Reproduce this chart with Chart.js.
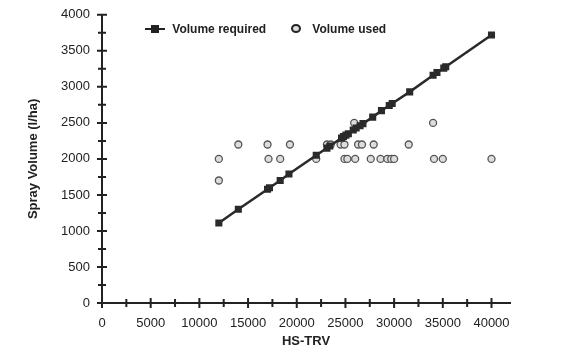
<!DOCTYPE html>
<html>
<head>
<meta charset="utf-8">
<script src="https://cdn.jsdelivr.net/npm/chart.js@4/dist/chart.umd.min.js"></script>
<style>
    html, body { margin: 0; padding: 0; background: #fff; }
    #wrap { position: relative; width: 573px; height: 359px; }
    .leg { position: absolute; top: 20px; font: bold 12px "Liberation Sans", Arial, sans-serif; color: #222; line-height: 16px; }
    .leg span { display: inline-block; vertical-align: middle; }
</style>
</head>
<body>
<div id="wrap">
    <canvas id="grafico" width="573" height="359"></canvas>
    <div class="leg" style="left:145px">
        <span style="position:relative;width:20px;height:16px">
            <span style="position:absolute;left:0;top:7px;width:20px;height:2px;background:#222"></span>
            <span style="position:absolute;left:6px;top:4px;width:8px;height:8px;background:#222"></span>
        </span>
        <span style="margin-left:4px">Volume required</span>
    </div>
    <div class="leg" style="left:291px">
        <span style="width:6px;height:5px;border:2px solid #222;border-radius:50%;background:#ddd"></span>
        <span style="margin-left:8px">Volume used</span>
    </div>
</div>
<script>
/* Spray volume vs HS-TRV */
const reqX  = [12000, 14000, 17000, 17200, 18300, 19200, 22000, 23100, 23400, 24600, 24800, 25050, 25300, 25800,
               26100, 26500, 26800, 27800, 28700, 29500, 29800, 31600, 34000, 34400, 35100, 35300, 40000];
const reqY  = [1110, 1300, 1580, 1600, 1700, 1790, 2050, 2150, 2180, 2290, 2310, 2330, 2350, 2400,
               2430, 2460, 2490, 2580, 2670, 2740, 2770, 2930, 3160, 3200, 3260, 3280, 3720];

const usedX = [12000, 12000, 14000, 17000, 17100, 18300, 19300, 22000, 23100, 23500, 24500, 24900, 24900, 25200,
               25900, 26000, 26300, 26700, 27600, 27900, 28600, 29300, 29700, 30000, 31500, 34000, 34100, 35000, 40000];
const usedY = [2000, 1700, 2200, 2200, 2000, 2000, 2200, 2000, 2200, 2200, 2200, 2200, 2000, 2000,
               2500, 2000, 2200, 2200, 2000, 2200, 2000, 2000, 2000, 2000, 2200, 2500, 2000, 2000, 2000];

const xTicks = [0, 5000, 10000, 15000, 20000, 25000, 30000, 35000, 40000];
const yTicks = [0, 500, 1000, 1500, 2000, 2500, 3000, 3500, 4000];

const pts = (xs, ys) => xs.map((x, i) => ({ x, y: ys[i] }));

const tickFont = { family: '"Liberation Sans", Arial, sans-serif', size: 13 };
const titleFont = { family: '"Liberation Sans", Arial, sans-serif', size: 13, weight: 'bold' };

// ticks crossing the axis, plus a minor tick halfway between labels
const crossTicks = {
    id: 'crossTicks',
    afterDraw(chart) {
        const { ctx, scales: { x, y } } = chart;
        ctx.save();
        ctx.strokeStyle = '#222';
        ctx.lineWidth = 2;
        ctx.beginPath();
        xTicks.forEach((v, i) => {
            const px = x.getPixelForValue(v);
            ctx.moveTo(px, x.top - 5);
            ctx.lineTo(px, x.top + 5);
            if (i > 0) {
                const pm = x.getPixelForValue((v + xTicks[i - 1]) / 2);
                ctx.moveTo(pm, x.top - 4);
                ctx.lineTo(pm, x.top + 4);
            }
        });
        yTicks.forEach((v, i) => {
            const py = y.getPixelForValue(v);
            ctx.moveTo(y.right - 5, py);
            ctx.lineTo(y.right + 5, py);
            if (i > 0) {
                const pm = y.getPixelForValue((v + yTicks[i - 1]) / 2);
                ctx.moveTo(y.right - 4, pm);
                ctx.lineTo(y.right + 4, pm);
            }
        });
        // axis line runs a little past the y axis, like the original
        ctx.moveTo(y.right - 5, x.top);
        ctx.lineTo(y.right, x.top);
        ctx.stroke();
        ctx.restore();
    }
};

new Chart(document.getElementById('grafico'), {
    type: 'scatter',
    data: {
        datasets: [
            {
                label: 'Volume required',
                data: pts(reqX, reqY),
                showLine: true,
                borderColor: '#2a2a2a',
                borderWidth: 2.5,
                backgroundColor: '#2a2a2a',
                pointStyle: 'rect',
                pointRadius: 5,
                pointBorderWidth: 0,
                order: 1,
            },
            {
                label: 'Volume used',
                data: pts(usedX, usedY),
                borderColor: '#555',
                backgroundColor: '#ddd',
                pointRadius: 3.5,
                pointBorderWidth: 1.3,
                order: 2,
            },
        ]
    },
    options: {
        responsive: false,
        animation: false,
        layout: { padding: { left: 22, top: 10, right: 63, bottom: 7 } },
        plugins: {
            legend: { display: false },
            tooltip: { enabled: false }
        },
        scales: {
            x: {
                type: 'linear',
                min: 0,
                max: 41900,
                afterBuildTicks: s => { s.ticks = xTicks.map(v => ({ value: v })); },
                afterFit: s => { s.height = 49; },
                border: { color: '#222', width: 2 },
                grid: { drawOnChartArea: false, drawTicks: true, tickLength: 5, color: 'rgba(0,0,0,0)' },
                ticks: {
                    autoSkip: false,
                    maxRotation: 0,
                    padding: 8,
                    color: '#222',
                    font: tickFont,
                    callback: v => String(v)
                },
                title: { display: true, text: 'HS-TRV', color: '#222', font: titleFont, padding: { top: 2, bottom: 3 } }
            },
            y: {
                min: 0,
                max: 4000,
                afterBuildTicks: s => { s.ticks = yTicks.map(v => ({ value: v })); },
                afterFit: s => { s.width = 80; },
                border: { color: '#222', width: 2 },
                grid: { drawOnChartArea: false, drawTicks: true, tickLength: 5, color: 'rgba(0,0,0,0)' },
                ticks: {
                    autoSkip: false,
                    padding: 7,
                    color: '#222',
                    font: tickFont,
                    callback: v => String(v)
                },
                title: { display: true, text: 'Spray Volume (l/ha)', color: '#222', font: titleFont, padding: { top: 4, bottom: 4 } }
            }
        }
    },
    plugins: [crossTicks]
});
</script>
</body>
</html>
